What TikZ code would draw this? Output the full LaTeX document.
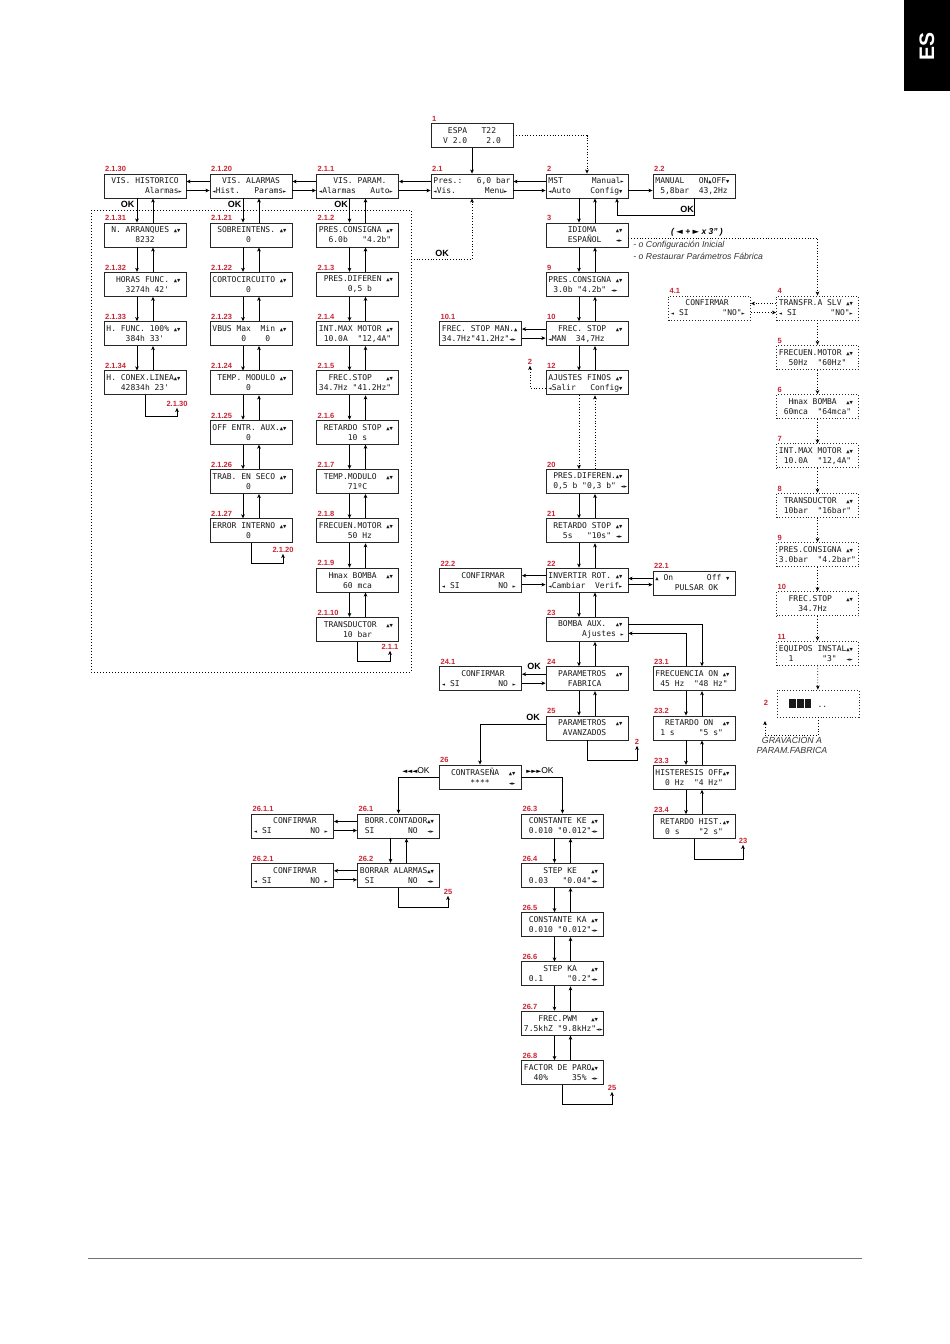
\documentclass[tikz,border=0pt]{standalone}
\usepackage{fontspec}
\setmainfont{Liberation Sans}
\setsansfont{Liberation Sans}
\setmonofont{DejaVu Sans Mono}
\newfontfamily\symfont{DejaVu Sans}
\usepackage{xcolor}
\usetikzlibrary{positioning,calc,arrows.meta,shadows}
\definecolor{labred}{RGB}{200,35,50}

% small keypad glyphs on the display
\newcommand{\ud}{{\fontsize{5.5}{5}\selectfont▲▼}}
\newcommand{\lr}{{\fontsize{5.5}{5}\selectfont◄►}}
\newcommand{\la}{{\fontsize{5.5}{5}\selectfont◄}}
\newcommand{\ra}{{\fontsize{5.5}{5}\selectfont►}}
\newcommand{\ua}{{\fontsize{5.5}{5}\selectfont▲}}
\newcommand{\da}{{\fontsize{5.5}{5}\selectfont▼}}
\newcommand{\blk}{\rule[-1pt]{6.5pt}{9pt}\hspace{1.4pt}}
% two display lines of 16 characters
\newcommand{\disp}[2]{\makebox[9.63em][l]{#1}\\\makebox[9.63em][l]{#2}}
% down arrow on the left, up arrow on the right
\newcommand{\updown}[3][]{%
  \draw[#1] ([xshift=-8pt]#2.south) -- ([xshift=-8pt]#3.north);
  \draw[#1] ([xshift=8pt]#3.north) -- ([xshift=8pt]#2.south);}
% upper arrow to the left, lower arrow to the right
\newcommand{\across}[3][]{%
  \path ([yshift=4.5pt]#3.west) coordinate (tmpu) ([yshift=-4.5pt]#2.east) coordinate (tmpd);
  \draw[#1] (tmpu) -- (tmpu -| #2.east);
  \draw[#1] (tmpd) -- (tmpd -| #3.west);}

\begin{document}
\begin{tikzpicture}[x=1pt, y=-1pt, ->, >={Stealth[length=4pt, width=3.6pt, inset=1pt]}, line width=0.8pt,
 lcd/.style={draw=black!85, line width=0.9pt, fill=white, minimum width=82pt, minimum height=24pt, inner sep=0pt, align=center, text=black!90, font=\ttfamily\fontsize{8}{10}\selectfont},
 aux/.style={lcd, dotted},
 lab/.style={anchor=south west, inner sep=1.2pt, text=labred, font=\sffamily\bfseries\fontsize{7.5}{8}\selectfont},
 goto/.style={lab, anchor=center, inner sep=0.8pt},
 ok/.style={inner sep=0pt, font=\sffamily\bfseries\fontsize{9}{9}\selectfont},
 note/.style={inner sep=0pt, text=black!80, font=\sffamily\itshape\fontsize{8.7}{10}\selectfont}]

\useasboundingbox (0,0) rectangle (950,1344);
\fill[-, black] (904,0) rectangle (950,91);
\node[rotate=90, text=white, font=\sffamily\bfseries\fontsize{21}{21}\selectfont] (es) at (927,46) {ES};

% main screens
\node[lcd, label={[lab]north west:1}] (start) at (472,135.5) {\disp{~~~ESPA~~~T22}{~~V~2.0~~~~2.0}};
\node[lcd, drop shadow={shadow xshift=1.3pt, shadow yshift=-1.3pt, fill=black!60, opacity=1}, label={[lab]north west:2.1}] (home) at (472,186) {\disp{Pres.:~~~6,0~bar}{\la Vis.~~~~~~Menu\ra}};
\node[lcd, label={[lab]north west:2}] (mst) at (587,186) {\disp{MST~~~~~~Manual\ra}{\la Auto~~~~Config\da}};
\node[lcd, label={[lab]north west:2.2}] (manual) at (694,186) {\disp{MANUAL~~~ON\ua OFF\da}{~5,8bar~~43,2Hz}};

\node[lcd, label={[lab]north west:2.1.30}] (vhist) at (145,186) {\disp{~VIS.~HISTORICO}{~~~~~~~~Alarmas\ra}};
\node[lcd, label={[lab]north west:2.1.20}] (valarm) at (251,186) {\disp{~~VIS.~ALARMAS}{\la Hist.~~~Params\ra}};
\node[lcd, label={[lab]north west:2.1.1}] (vparam) at (357.5,186) {\disp{~~~VIS.~PARAM.}{\la Alarmas~~~Auto\ra}};

% historico
\node[lcd, label={[lab]north west:2.1.31}] (h31) at (145,235) {\disp{~N.~ARRANQUES~\ud}{~~~~~~8232}};
\node[lcd, label={[lab]north west:2.1.32}] (h32) at (145,284.3) {\disp{~~HORAS~FUNC.~\ud}{~~~~3274h~42'}};
\node[lcd, label={[lab]north west:2.1.33}] (h33) at (145,333.6) {\disp{H.~FUNC.~100\%~\ud}{~~~~384h~33'}};
\node[lcd, label={[lab]north west:2.1.34}] (h34) at (145,382.9) {\disp{H.~CONEX.LINEA\ud}{~~~42834h~23'}};

% alarmas
\node[lcd, label={[lab]north west:2.1.21}] (a21) at (251,235) {\disp{~SOBREINTENS.~\ud}{~~~~~~~0}};
\node[lcd, label={[lab]north west:2.1.22}] (a22) at (251,284.3) {\disp{CORTOCIRCUITO~\ud}{~~~~~~~0}};
\node[lcd, label={[lab]north west:2.1.23}] (a23) at (251,333.6) {\disp{VBUS~Max~~Min~\ud}{~~~~~~0~~~~0}};
\node[lcd, label={[lab]north west:2.1.24}] (a24) at (251,382.9) {\disp{~TEMP.~MODULO~\ud}{~~~~~~~0}};
\node[lcd, label={[lab]north west:2.1.25}] (a25) at (251,432.2) {\disp{OFF~ENTR.~AUX.\ud}{~~~~~~~0}};
\node[lcd, label={[lab]north west:2.1.26}] (a26) at (251,481.5) {\disp{TRAB.~EN~SECO~\ud}{~~~~~~~0}};
\node[lcd, label={[lab]north west:2.1.27}] (a27) at (251,530.8) {\disp{ERROR~INTERNO~\ud}{~~~~~~~0}};

% parametros
\node[lcd, label={[lab]north west:2.1.2}] (p2) at (357.5,235) {\disp{PRES.CONSIGNA~\ud}{~~6.0b~~~"4.2b"}};
\node[lcd, label={[lab]north west:2.1.3}] (p3) at (357.5,284.3) {\disp{~PRES.DIFEREN~\ud}{~~~~~~0,5~b}};
\node[lcd, label={[lab]north west:2.1.4}] (p4) at (357.5,333.6) {\disp{INT.MAX~MOTOR~\ud}{~10.0A~~"12,4A"}};
\node[lcd, label={[lab]north west:2.1.5}] (p5) at (357.5,382.9) {\disp{~~FREC.STOP~~~\ud}{34.7Hz~"41.2Hz"}};
\node[lcd, label={[lab]north west:2.1.6}] (p6) at (357.5,432.2) {\disp{~RETARDO~STOP~\ud}{~~~~~~10~s}};
\node[lcd, label={[lab]north west:2.1.7}] (p7) at (357.5,481.5) {\disp{~TEMP.MODULO~~\ud}{~~~~~~71ºC}};
\node[lcd, label={[lab]north west:2.1.8}] (p8) at (357.5,530.8) {\disp{FRECUEN.MOTOR~\ud}{~~~~~~50~Hz}};
\node[lcd, label={[lab]north west:2.1.9}] (p9) at (357.5,580.1) {\disp{~~Hmax~BOMBA~~\ud}{~~~~~60~mca}};
\node[lcd, label={[lab]north west:2.1.10}] (p10) at (357.5,629.4) {\disp{~TRANSDUCTOR~~\ud}{~~~~~10~bar}};

% configuracion
\node[lcd, label={[lab]north west:3}] (idioma) at (587,235) {\disp{~~~~IDIOMA~~~~\ud}{~~~~ESPAÑOL~~~\lr}};
\node[lcd, label={[lab]north west:9}] (cons) at (587,284.3) {\disp{PRES.CONSIGNA~\ud}{~3.0b~"4.2b"~\lr}};
\node[lcd, label={[lab]north west:10}] (fstop) at (587,333.6) {\disp{~~FREC.~STOP~~\ud}{\la MAN~~34,7Hz}};
\node[lcd, label={[lab]north west:10.1}] (fstopman) at (480.5,333.6) {\disp{FREC.~STOP~MAN.\ua}{34.7Hz"41.2Hz"\lr}};
\node[lcd, label={[lab]north west:12}] (finos) at (587,382.9) {\disp{AJUSTES~FINOS~\ud}{\la Salir~~~Config\da}};
\node[lcd, label={[lab]north west:20}] (difer) at (587,481.5) {\disp{~PRES.DIFEREN.\ud}{~0,5~b~"0,3~b"~\lr}};
\node[lcd, label={[lab]north west:21}] (retstop) at (587,530.8) {\disp{~RETARDO~STOP~\ud}{~~~5s~~~"10s"~\lr}};
\node[lcd, label={[lab]north west:22}] (invert) at (587,580.1) {\disp{INVERTIR~ROT.~\ud}{\la Cambiar~~Verif\ra}};
\node[lcd, label={[lab]north west:22.2}] (confinv) at (480.5,580.1) {\disp{~~~~CONFIRMAR}{\la~SI~~~~~~~~NO~\ra}};
\node[lcd, label={[lab]north west:22.1}] (pulsar) at (694,583) {\disp{\ua~On~~~~~~~Off~\da}{~~~~PULSAR~OK}};
\node[lcd, label={[lab]north west:23}] (aux) at (587,629.4) {\disp{~~BOMBA~AUX.~~\ud}{~~~~~~~Ajustes~\ra}};
\node[lcd, label={[lab]north west:24}] (fabrica) at (587,678.7) {\disp{~~PARAMETROS~~\ud}{~~~~FABRICA}};
\node[lcd, label={[lab]north west:24.1}] (conffab) at (480.5,678.7) {\disp{~~~~CONFIRMAR}{\la~SI~~~~~~~~NO~\ra}};
\node[lcd, label={[lab]north west:25}] (avanz) at (587,728) {\disp{~~PARAMETROS~~\ud}{~~~AVANZADOS}};

\node[lcd, label={[lab]north west:23.1}] (frecon) at (694,678.7) {\disp{FRECUENCIA~ON~\ud}{~45~Hz~~"48~Hz"}};
\node[lcd, label={[lab]north west:23.2}] (reton) at (694,728) {\disp{~~RETARDO~ON~~\ud}{~1~s~~~~~"5~s"}};
\node[lcd, label={[lab]north west:23.3}] (hister) at (694,777.3) {\disp{HISTERESIS~OFF\ud}{~~0~Hz~~"4~Hz"}};
\node[lcd, label={[lab]north west:23.4}] (rethist) at (694,826.6) {\disp{~RETARDO~HIST.\ud}{~~0~s~~~~"2~s"}};

% avanzados
\node[lcd, label={[lab]north west:26}] (passw) at (480,777) {\disp{~~CONTRASEÑA~~\ud}{~~~~~~****~~~~\lr}};
\node[lcd, label={[lab]north west:26.1}] (borrc) at (398.5,826) {\disp{~BORR.CONTADOR\ud}{~SI~~~~~~~NO~~\lr}};
\node[lcd, label={[lab]north west:26.2}] (borra) at (398.5,875.3) {\disp{BORRAR~ALARMAS\ud}{~SI~~~~~~~NO~~\lr}};
\node[lcd, label={[lab]north west:26.1.1}] (confc) at (292.5,826) {\disp{~~~~CONFIRMAR}{\la~SI~~~~~~~~NO~\ra}};
\node[lcd, label={[lab]north west:26.2.1}] (confa) at (292.5,875.3) {\disp{~~~~CONFIRMAR}{\la~SI~~~~~~~~NO~\ra}};
\node[lcd, label={[lab]north west:26.3}] (ke) at (562.5,826) {\disp{~CONSTANTE~KE~\ud}{~0.010~"0.012"\lr}};
\node[lcd, label={[lab]north west:26.4}] (stepke) at (562.5,875.3) {\disp{~~~~STEP~KE~~~\ud}{~0.03~~~"0.04"\lr}};
\node[lcd, label={[lab]north west:26.5}] (ka) at (562.5,924.6) {\disp{~CONSTANTE~KA~\ud}{~0.010~"0.012"\lr}};
\node[lcd, label={[lab]north west:26.6}] (stepka) at (562.5,973.9) {\disp{~~~~STEP~KA~~~\ud}{~0.1~~~~~"0.2"\lr}};
\node[lcd, label={[lab]north west:26.7}] (pwm) at (562.5,1023.2) {\disp{~~~FREC.PWM~~~\ud}{7.5khZ~"9.8kHz"\lr}};
\node[lcd, label={[lab]north west:26.8}] (paro) at (562.5,1072.5) {\disp{FACTOR~DE~PARO\ud}{~~40\%~~~~~35\%~\lr}};

% configuracion inicial
\node[aux, label={[lab]north west:4}] (slv) at (817.5,308) {\disp{TRANSFR.A~SLV~\ud}{\la~SI~~~~~~~"NO"\ra}};
\node[aux, label={[lab]north west:4.1}] (confslv) at (709.5,308) {\disp{~~~CONFIRMAR}{\la~SI~~~~~~~"NO"\ra}};
\node[aux, label={[lab]north west:5}] (q5) at (817.5,357.3) {\disp{FRECUEN.MOTOR~\ud}{~~50Hz~~"60Hz"}};
\node[aux, label={[lab]north west:6}] (q6) at (817.5,406.6) {\disp{~~Hmax~BOMBA~~\ud}{~60mca~~"64mca"}};
\node[aux, label={[lab]north west:7}] (q7) at (817.5,455.9) {\disp{INT.MAX~MOTOR~\ud}{~10.0A~~"12,4A"}};
\node[aux, label={[lab]north west:8}] (q8) at (817.5,505.2) {\disp{~TRANSDUCTOR~~\ud}{~10bar~~"16bar"}};
\node[aux, label={[lab]north west:9}] (q9) at (817.5,554.5) {\disp{PRES.CONSIGNA~\ud}{3.0bar~~"4.2bar"}};
\node[aux, label={[lab]north west:10}] (q10) at (817.5,603.8) {\disp{~~FREC.STOP~~~\ud}{~~~~34.7Hz}};
\node[aux, label={[lab]north west:11}] (q11) at (817.5,653.1) {\disp{EQUIPOS~INSTAL\ud}{~~1~~~~~~"3"~~\lr}};
\node[aux, minimum height=27pt] (save) at (818,703.5) {\makebox[9.63em][l]{~~\blk\blk\blk~..}};

% jump targets
\node[goto] (to2130) at (177,404) {2.1.30};
\node[goto] (to2120) at (283,550) {2.1.20};
\node[goto] (to211) at (390,647) {2.1.1};
\node[goto] (to2a) at (530,362) {2};
\node[goto] (to2b) at (637,742) {2};
\node[goto] (to23) at (743,841) {23};
\node[goto] (to25a) at (448,892) {25};
\node[goto] (to25b) at (612,1088) {25};
\node[goto] (to2c) at (766,703) {2};
\coordinate (grav) at (765,721);
\coordinate (spur) at (411,259);

% texts
\node[ok] (ok1) at (127.5,204) {OK};
\node[ok] (ok2) at (234.5,204) {OK};
\node[ok] (ok3) at (341,204) {OK};
\node[ok] (ok4) at (442,253) {OK};
\node[ok] (ok5) at (687,209) {OK};
\node[ok] (ok6) at (534,666) {OK};
\node[ok] (ok7) at (533,717) {OK};
\node[inner sep=0pt, font=\sffamily\fontsize{8.5}{9}\selectfont] (back3) at (416,771) {{\symfont\fontsize{6.5}{6}\selectfont◄◄◄}OK};
\node[inner sep=0pt, font=\sffamily\fontsize{8.5}{9}\selectfont] (fwd3) at (540,771) {{\symfont\fontsize{6.5}{6}\selectfont►►►}OK};
\node[note, text=black, font=\sffamily\itshape\bfseries\fontsize{8.5}{10}\selectfont] (keys) at (697,232) {(~{\symfont◄}~+~{\symfont►}~x~3"~)};
\node[note, anchor=west] (ini) at (633,245) {- o Configuración Inicial};
\node[note, anchor=west] (rest) at (633,256) {- o Restaurar Parámetros Fábrica};
\node[note, align=center, font=\sffamily\itshape\fontsize{8.8}{10}\selectfont] (gravtxt) at (792,745) {GRAVACION A\\PARAM.FABRICA};

% connectors
\draw (start) -- (home);
\draw[dotted] (start.east) -| (mst.north);
\across{home}{mst}
\draw ([yshift=-4.5pt]mst.east) -- ([yshift=-4.5pt]manual.west);
\draw (manual.south) -- ++(0,17) -| ([xshift=30pt]mst.south);
\across{vparam}{home}
\across{valarm}{vparam}
\across{vhist}{valarm}

\updown{vhist}{h31}
\updown{h31}{h32}
\updown{h32}{h33}
\updown{h33}{h34}
\draw (h34.south) -- ++(0,21) -| (to2130.south);

\updown{valarm}{a21}
\updown{a21}{a22}
\updown{a22}{a23}
\updown{a23}{a24}
\updown{a24}{a25}
\updown{a25}{a26}
\updown{a26}{a27}
\draw (a27.south) -- ++(0,20) -| (to2120.south);

\updown{vparam}{p2}
\updown{p2}{p3}
\updown{p3}{p4}
\updown{p4}{p5}
\updown{p5}{p6}
\updown{p6}{p7}
\updown{p7}{p8}
\updown{p8}{p9}
\updown{p9}{p10}
\draw (p10.south) -- ++(0,20) -| (to211.south);

\draw[-, dotted, line width=1pt] (91,210) rectangle (411,672);
\draw[dotted] (spur) -| (home.south);

\updown{mst}{idioma}
\updown{idioma}{cons}
\updown{cons}{fstop}
\across{fstopman}{fstop}
\updown{fstop}{finos}
\draw[dotted] ([yshift=-5pt]finos.west) -| (to2a.south);
\updown[dotted]{finos}{difer}
\updown{difer}{retstop}
\updown{retstop}{invert}
\across{confinv}{invert}
\across{invert}{pulsar}
\updown{invert}{aux}
\updown{aux}{fabrica}
\across{conffab}{fabrica}
\updown{fabrica}{avanz}
\draw (avanz.south) -- ++(0,20) -| (to2b.south);

\draw ([yshift=5pt]aux.east) -| ([xshift=8pt]frecon.north);
\draw ([xshift=-8pt]frecon.north) |- ([yshift=-4pt]aux.east);
\updown{frecon}{reton}
\updown{reton}{hister}
\updown{hister}{rethist}
\draw (rethist.south) -- ++(0,20) -| (to23.south);

\draw ([yshift=4pt]avanz.west) -| (passw.north);
\draw (passw.west) -| (borrc.north);
\draw (passw.east) -| (ke.north);
\across{confc}{borrc}
\across{confa}{borra}
\updown{borrc}{borra}
\draw (borra.south) -- ++(0,20) -| (to25a.south);
\updown{ke}{stepke}
\updown{stepke}{ka}
\updown{ka}{stepka}
\updown{stepka}{pwm}
\updown{pwm}{paro}
\draw (paro.south) -- ++(0,19) -| (to25b.south);

\draw[dotted] ([yshift=-3pt]idioma.east) -| (slv.north);
\across[dotted]{confslv}{slv}
\path[dotted] (slv) edge (q5) (q5) edge (q6) (q6) edge (q7) (q7) edge (q8)
 (q8) edge (q9) (q9) edge (q10) (q10) edge (q11) (q11) edge (save);
\draw[dotted] (save.south) -- ++(0,18) -| (grav);

\draw[-, black!55, line width=0.6pt] (88,1258) -- (862,1258);
\end{tikzpicture}
\end{document}
